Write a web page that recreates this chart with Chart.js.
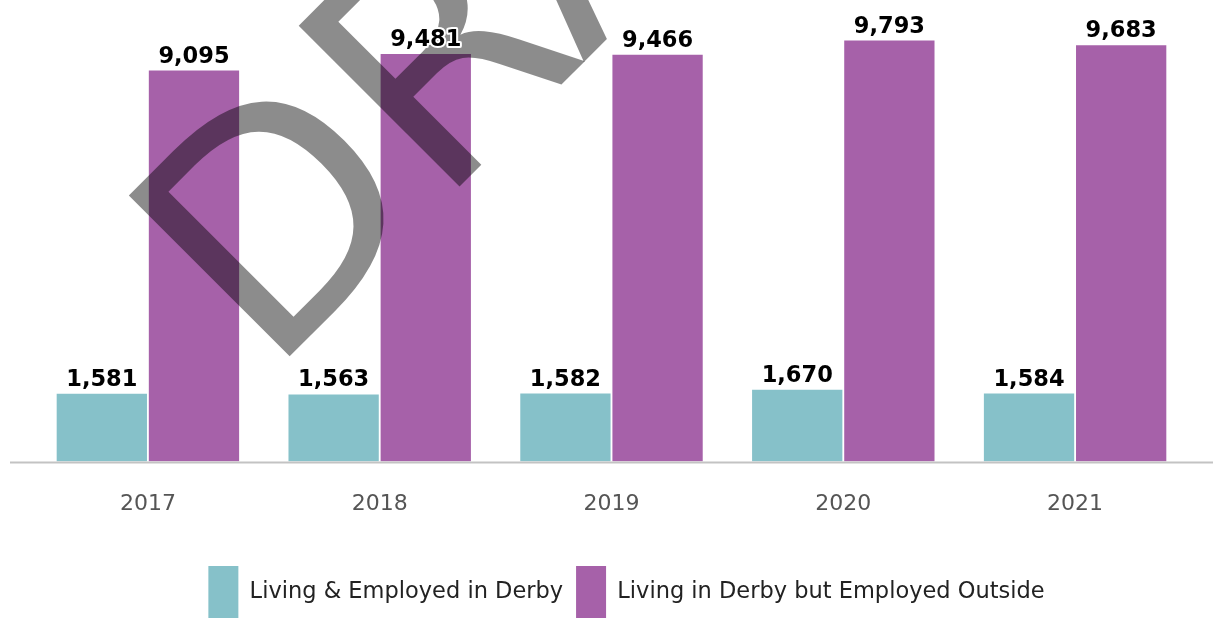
<!DOCTYPE html>
<html lang=en>

<head>
    <meta charset=UTF-8>
    <title>Derby employment</title>
    <style>
        * {
            margin: 0;
            padding: 0;
        }

        body {
            background: #fff;
        }

        .wrap {
            width: 1215px;
            height: 618px;
        }
    </style>
</head>

<body>
    <div class=wrap>
        <canvas id="myChart"></canvas>
    </div>
    <script src="https://cdn.jsdelivr.net/npm/chart.js"></script>
    <script>
        const years = ['2017', '2018', '2019', '2020', '2021']
        const livingEmployed = [1581, 1563, 1582, 1670, 1584]
        const livingOutside = [9095, 9481, 9466, 9793, 9683]
        const seriesNames = ['Living & Employed in Derby', 'Living in Derby but Employed Outside']
        const watermark = 'DRAFT'

        const fmt = v => v.toLocaleString('en-GB')

        // long grey baseline, wider than the plot area
        const baseLine = {
            id: 'baseLine',
            afterDatasetsDraw(chart) {
                const ctx = chart.ctx
                const y = chart.scales.y.getPixelForValue(0)
                ctx.save()
                ctx.strokeStyle = '#c3c3c3'
                ctx.lineWidth = 2
                ctx.beginPath()
                ctx.moveTo(10, y + 1)
                ctx.lineTo(1213, y + 1)
                ctx.stroke()
                ctx.restore()
            }
        }

        // rotated watermark, then value labels on top
        const overlay = {
            id: 'overlay',
            afterDatasetsDraw(chart) {
                const ctx = chart.ctx
                ctx.save()
                ctx.translate(268, 378)
                ctx.rotate(-Math.PI / 4)
                ctx.font = '312px "DejaVu Sans"'
                ctx.fillStyle = 'rgba(0,0,0,0.45)'
                ctx.textBaseline = 'alphabetic'
                ctx.fillText(watermark, 0, 0)
                ctx.restore()

                ctx.save()
                ctx.font = 'bold 22.5px "DejaVu Sans"'
                ctx.textAlign = 'center'
                ctx.textBaseline = 'alphabetic'
                ctx.lineJoin = 'round'
                chart.data.datasets.forEach((ds, i) => {
                    chart.getDatasetMeta(i).data.forEach((bar, j) => {
                        const txt = fmt(ds.data[j])
                        ctx.strokeStyle = '#fff'
                        ctx.lineWidth = 4
                        ctx.strokeText(txt, bar.x, bar.y - 8)
                        ctx.fillStyle = '#000'
                        ctx.fillText(txt, bar.x, bar.y - 8)
                    })
                })
                ctx.restore()
            }
        }

        // legend sits a little right of centre in the original
        const legendShift = {
            id: 'legendShift',
            afterLayout(chart) {
                chart.legend.left += 15
                chart.legend.right += 15
            }
        }

        const ctx = document.getElementById('myChart')
        new Chart(ctx, {
            type: 'bar',
            data: {
                labels: years,
                datasets: [{
                    label: seriesNames[0],
                    data: livingEmployed,
                    backgroundColor: '#86c1c9'
                }, {
                    label: seriesNames[1],
                    data: livingOutside,
                    backgroundColor: '#a661a9'
                }]
            },
            options: {
                responsive: true,
                maintainAspectRatio: false,
                animation: false,
                layout: {
                    padding: { left: 32, right: 24, top: 0, bottom: -10 }
                },
                datasets: {
                    bar: {
                        categoryPercentage: 0.795,
                        barPercentage: 0.98
                    }
                },
                scales: {
                    x: {
                        grid: { display: false },
                        border: { display: false },
                        ticks: {
                            color: '#555',
                            font: { family: 'DejaVu Sans', size: 22 },
                            padding: 21
                        },
                        afterFit(scale) {
                            scale.height += 15
                        }
                    },
                    y: {
                        display: false,
                        min: 0,
                        max: 10737
                    }
                },
                plugins: {
                    legend: {
                        position: 'bottom',
                        labels: {
                            boxWidth: 30,
                            boxHeight: 52,
                            color: '#222',
                            font: { family: 'DejaVu Sans', size: 22.5 },
                            padding: 13
                        }
                    },
                    tooltip: { enabled: false }
                }
            },
            plugins: [baseLine, overlay, legendShift]
        })
    </script>

</body>

</html>
